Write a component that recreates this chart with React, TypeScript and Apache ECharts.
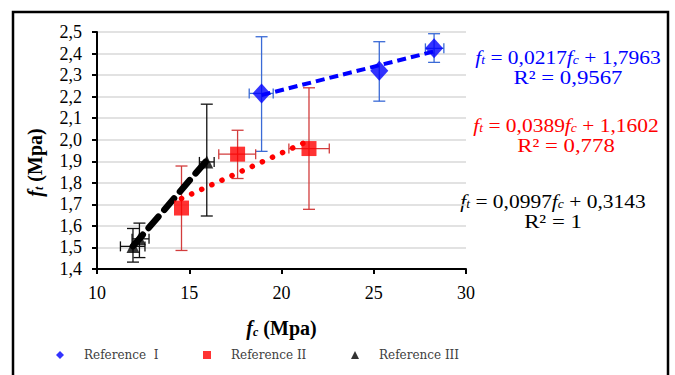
import React, { useEffect, useRef } from "react";
import * as echarts from "echarts";

// ---- data ----
const refIX = [18.92, 25.3, 28.27];
const refIY = [2.215, 2.32, 2.424];
const refIXLow = [18.25, 25.3, 27.8];
const refIXHigh = [19.55, 25.3, 28.8];
const refIYLow = [1.946, 2.179, 2.359];
const refIYHigh = [2.478, 2.455, 2.492];

const refIIX = [14.58, 17.62, 21.49];
const refIIY = [1.683, 1.933, 1.959];
const refIIXLow = [14.58, 16.6, 20.4];
const refIIXHigh = [14.58, 18.6, 22.59];
const refIIYLow = [1.486, 1.82, 1.677];
const refIIYHigh = [1.878, 2.044, 2.241];

const refIIIX = [11.95, 12.3, 15.95];
const refIIIY = [1.505, 1.54, 1.897];
const refIIIXLow = [11.27, 11.9, 15.55];
const refIIIXHigh = [12.6, 12.82, 16.35];
const refIIIYLow = [1.432, 1.453, 1.646];
const refIIIYHigh = [1.588, 1.613, 2.165];

const trendIX = [18.92, 28.27];
const trendIY = [2.207, 2.41];
const trendIIX = [14.58, 21.49];
const trendIIY = [1.727, 1.996];
const trendIIIX = [11.95, 15.95];
const trendIIIY = [1.506, 1.904];

const seriesNames = ["Reference  I", "Reference II", "Reference III"];
const eqSlopes = ["0,0217", "0,0389", "0,0997"];
const eqIntercepts = ["1,7963", "1,1602", "0,3143"];
const eqR2 = ["0,9567", "0,778", "1"];

const xTicks = { min: 10, max: 30, interval: 5 };
const yTicks = { min: 1.4, max: 2.5, interval: 0.1 };

const SERIF = "'Liberation Serif', 'Times New Roman', serif";

function pts(xs: number[], ys: number[]) {
  return xs.map((x, i) => [x, ys[i]]);
}
function errRows(xs: number[], ys: number[], xl: number[], xh: number[], yl: number[], yh: number[]) {
  return xs.map((x, i) => [x, ys[i], xl[i], xh[i], yl[i], yh[i]]);
}

function errorSeries(name: string, data: number[][], color: string) {
  return {
    type: "custom",
    name: name + " err",
    data,
    encode: { x: 0, y: 1 },
    z: 2,
    silent: true,
    renderItem: (params: any, api: any) => {
      const x = api.value(0);
      const y = api.value(1);
      const xl = api.value(2);
      const xh = api.value(3);
      const yl = api.value(4);
      const yh = api.value(5);
      const pLo = api.coord([x, yl]);
      const pHi = api.coord([x, yh]);
      const cap = 6;
      const style = { stroke: color, lineWidth: 1.3, fill: null };
      const children: any[] = [
        { type: "line", shape: { x1: pLo[0], y1: pLo[1], x2: pHi[0], y2: pHi[1] }, style },
        { type: "line", shape: { x1: pLo[0] - cap, y1: pLo[1], x2: pLo[0] + cap, y2: pLo[1] }, style },
        { type: "line", shape: { x1: pHi[0] - cap, y1: pHi[1], x2: pHi[0] + cap, y2: pHi[1] }, style },
      ];
      if (xh > xl) {
        const a = api.coord([xl, y]);
        const b = api.coord([xh, y]);
        children.push(
          { type: "line", shape: { x1: a[0], y1: a[1], x2: b[0], y2: b[1] }, style },
          { type: "line", shape: { x1: a[0], y1: a[1] - 5, x2: a[0], y2: a[1] + 5 }, style },
          { type: "line", shape: { x1: b[0], y1: b[1] - 5, x2: b[0], y2: b[1] + 5 }, style }
        );
      }
      return { type: "group", children };
    },
  };
}

const eqRich = (color: string) => ({
  n: { fontFamily: SERIF, fontSize: 19, fill: color, verticalAlign: "bottom", lineHeight: 23 },
  f: { fontFamily: SERIF, fontSize: 19, fontStyle: "italic", fill: color, verticalAlign: "bottom", lineHeight: 23 },
  s: { fontFamily: SERIF, fontSize: 12, fontStyle: "italic", fill: color, verticalAlign: "bottom", lineHeight: 18 },
});

function eqText(i: number, color: string, cx: number, cy: number) {
  return [
    {
      type: "text",
      x: cx,
      y: cy,
      scaleX: 1.13,
      style: {
        text: `{f|f}{s|t}{n| = ${eqSlopes[i]}}{f|f}{s|c}{n| + ${eqIntercepts[i]}}`,
        rich: eqRich(color),
        fill: color,
        align: "center",
        verticalAlign: "middle",
      },
    },
    {
      type: "text",
      x: cx,
      y: cy + 23,
      scaleX: 1.2,
      style: {
        text: `R² = ${eqR2[i]}`,
        fontFamily: SERIF,
        fontSize: 19,
        fill: color,
        align: "center",
        verticalAlign: "middle",
      },
    },
  ];
}

const nameRich = {
  f: { fontFamily: SERIF, fontSize: 20, fontStyle: "italic", fontWeight: "bold", color: "#000", verticalAlign: "bottom", lineHeight: 24 },
  s: { fontFamily: SERIF, fontSize: 12, fontStyle: "italic", fontWeight: "bold", color: "#000", verticalAlign: "bottom", lineHeight: 18 },
  b: { fontFamily: SERIF, fontSize: 20, fontWeight: "bold", color: "#000", verticalAlign: "bottom", lineHeight: 24 },
};

export default function App() {
  const ref = useRef<HTMLDivElement>(null);
  useEffect(() => {
    document.body.style.margin = "0";
    if (!ref.current) return;
    const chart = echarts.init(ref.current, null, { renderer: "svg" });
    const legendBase = (name: string, left: number) => ({
      data: [name],
      left,
      top: 344,
      itemWidth: 8,
      itemHeight: 8,
      textStyle: {
        fontFamily: "'DejaVu Serif', serif",
        fontSize: 12,
        color: "#404040",
        padding: [0, 0, 0, 15],
      },
    });
    chart.setOption({
      animation: false,
      backgroundColor: "#fff",
      grid: { left: 97, right: 209, top: 32, bottom: 106 },
      xAxis: {
        type: "value",
        min: xTicks.min,
        max: xTicks.max,
        interval: xTicks.interval,
        name: "{f|f}{s|c}{b| (Mpa)}",
        nameLocation: "middle",
        nameGap: 45,
        nameTextStyle: { rich: nameRich },
        axisLine: { lineStyle: { color: "#000", width: 2 } },
        axisTick: { show: true, length: 5, lineStyle: { color: "#000", width: 2 } },
        axisLabel: { fontFamily: SERIF, fontSize: 18, color: "#000", margin: 15 },
        splitLine: { show: false },
      },
      yAxis: {
        type: "value",
        min: yTicks.min,
        max: yTicks.max,
        interval: yTicks.interval,
        name: "{f|f}{s|t}{b| (Mpa)}",
        nameLocation: "middle",
        nameGap: 52,
        nameRotate: 90,
        nameTextStyle: { rich: nameRich, padding: [0, 24, 0, 0] },
        axisLine: { show: true, lineStyle: { color: "#000", width: 2 } },
        axisTick: { show: true, length: 5, lineStyle: { color: "#000", width: 2 } },
        axisLabel: {
          fontFamily: SERIF,
          fontSize: 18,
          color: "#000",
          margin: 15,
          formatter: (v: number) => v.toFixed(1).replace(".", ","),
        },
        splitLine: { show: true, lineStyle: { color: "#d9d9d9", width: 1.5 } },
      },
      legend: [
        legendBase(seriesNames[0], 51),
        legendBase(seriesNames[1], 198),
        legendBase(seriesNames[2], 346),
      ],
      series: [
        errorSeries(seriesNames[0], errRows(refIX, refIY, refIXLow, refIXHigh, refIYLow, refIYHigh), "#3a6ad6"),
        errorSeries(seriesNames[1], errRows(refIIX, refIIY, refIIXLow, refIIXHigh, refIIYLow, refIIYHigh), "#d23c3c"),
        errorSeries(seriesNames[2], errRows(refIIIX, refIIIY, refIIIXLow, refIIIXHigh, refIIIYLow, refIIIYHigh), "#111"),
        {
          type: "line",
          data: pts(trendIX, trendIY),
          symbol: "none",
          silent: true,
          z: 3,
          lineStyle: { color: "#0000ff", width: 4, type: [9, 5] },
        },
        {
          type: "line",
          data: pts(trendIIX, trendIIY),
          symbol: "none",
          silent: true,
          z: 3,
          lineStyle: { color: "#ff0000", width: 5.5, type: [0.1, 11], cap: "round" },
        },
        {
          type: "line",
          data: pts(trendIIIX, trendIIIY),
          symbol: "none",
          silent: true,
          z: 3,
          lineStyle: { color: "#000", width: 6.5, type: [15, 9], cap: "round" },
        },
        {
          type: "scatter",
          name: seriesNames[0],
          data: pts(refIX, refIY),
          symbol: "diamond",
          symbolSize: [18, 20],
          itemStyle: { color: "#0000ff" },
          z: 4,
        },
        {
          type: "scatter",
          name: seriesNames[1],
          data: pts(refIIX, refIIY),
          symbol: "rect",
          symbolSize: 15,
          itemStyle: { color: "#ff0000" },
          z: 4,
        },
        {
          type: "scatter",
          name: seriesNames[2],
          data: pts(refIIIX, refIIIY),
          symbol: "triangle",
          symbolSize: 13,
          itemStyle: { color: "#000" },
          z: 4,
        },
      ],
      graphic: [
        {
          type: "rect",
          shape: { x: 13, y: 12, width: 655, height: 420 },
          style: { fill: null, stroke: "#000", lineWidth: 2.5 },
          z: -1,
          silent: true,
        },
        ...eqText(0, "#0000ff", 568, 55),
        ...eqText(1, "#ff0000", 566, 123),
        ...eqText(2, "#000000", 553, 199),
      ],
    });
    return () => chart.dispose();
  }, []);
  return <div ref={ref} style={{ width: 675, height: 375 }} />;
}
